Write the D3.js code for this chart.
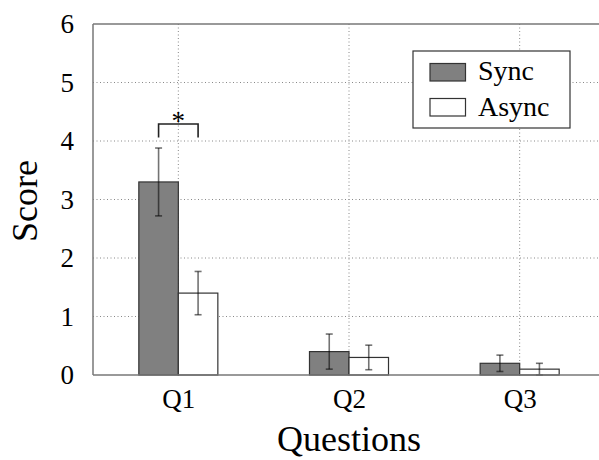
<!DOCTYPE html>
<html>
<head>
<meta charset="utf-8">
<script src="https://cdn.jsdelivr.net/npm/d3@7"></script>
<style>
  html, body { margin: 0; padding: 0; background: #fff; }
  svg { display: block; }
  text { font-family: "Liberation Serif", "Times New Roman", serif; fill: #000; }
</style>
</head>
<body>
<svg id="chart" width="599" height="460"></svg>
<script>
const categories = ["Q1", "Q2", "Q3"];
const seriesNames = ["Sync", "Async"];
const syncMeans = [3.3, 0.4, 0.2];
const syncErr = [0.58, 0.3, 0.14];
const asyncMeans = [1.4, 0.3, 0.1];
const asyncErr = [0.37, 0.21, 0.1];
const yTicks = [0, 1, 2, 3, 4, 5, 6];
const significance = [{ cat: 0, label: "*", level: 4.29, drop: 0.23 }];

(function () {
const W = 599, H = 460;
const mLeft = 93, mTop = 24, mBottom = 375, mRight = 605;

const svg = d3.select("#chart");

const x = d3.scaleLinear().domain([0.5, categories.length + 0.5]).range([mLeft, mRight]);
const y = d3.scaleLinear().domain([0, 6]).range([mBottom, mTop]);
const barW = x(1.2315) - x(1);

const fills = ["#808080", "#ffffff"];
const means = [syncMeans, asyncMeans];
const errs = [syncErr, asyncErr];

// grid
const grid = svg.append("g");
grid.selectAll("line.h").data(yTicks.filter(d => d > 0 && d < 6)).join("line")
  .attr("x1", mLeft).attr("x2", W).attr("y1", d => y(d)).attr("y2", d => y(d))
  .attr("stroke", "#888").attr("stroke-width", 1).attr("stroke-dasharray", "1,2.5");
grid.selectAll("line.v").data(categories).join("line")
  .attr("x1", (d, i) => x(i + 1)).attr("x2", (d, i) => x(i + 1))
  .attr("y1", mTop).attr("y2", mBottom)
  .attr("stroke", "#888").attr("stroke-width", 1).attr("stroke-dasharray", "1,2.5");

// bars
const bars = svg.append("g");
seriesNames.forEach((s, si) => {
  bars.selectAll("rect.s" + si).data(means[si]).join("rect")
    .attr("class", "s" + si)
    .attr("x", (d, i) => x(i + 1) + (si - 1) * barW)
    .attr("y", d => y(d))
    .attr("width", barW)
    .attr("height", d => y(0) - y(d))
    .attr("fill", fills[si])
    .attr("stroke", "#333").attr("stroke-width", 1.2);
});

// error bars
const eb = svg.append("g").attr("stroke", "rgba(0,0,0,0.55)").attr("stroke-width", 1.6);
seriesNames.forEach((s, si) => {
  means[si].forEach((m, i) => {
    const cx = x(i + 1) + (si - 0.5) * barW;
    const lo = Math.max(0, m - errs[si][i]), hi = m + errs[si][i];
    eb.append("line").attr("x1", cx).attr("x2", cx).attr("y1", y(lo)).attr("y2", y(hi));
    eb.append("line").attr("x1", cx - 3.5).attr("x2", cx + 3.5).attr("y1", y(lo)).attr("y2", y(lo));
    eb.append("line").attr("x1", cx - 3.5).attr("x2", cx + 3.5).attr("y1", y(hi)).attr("y2", y(hi));
  });
});

// axes frame
const frame = svg.append("g").attr("stroke", "#777").attr("stroke-width", 1.5).attr("fill", "none");
frame.append("line").attr("x1", mLeft).attr("x2", W).attr("y1", mTop).attr("y2", mTop);
frame.append("line").attr("x1", mLeft).attr("x2", W).attr("y1", mBottom).attr("y2", mBottom);
frame.append("line").attr("x1", mLeft).attr("x2", mLeft).attr("y1", mTop).attr("y2", mBottom);

// y axis labels
const yAxis = svg.append("g").attr("transform", `translate(${mLeft},0)`)
  .call(d3.axisLeft(y).tickValues(yTicks).tickSize(0).tickPadding(19).tickFormat(d3.format("d")));
yAxis.select(".domain").remove();
yAxis.selectAll("text").attr("font-size", 27).style("font-family", "'Liberation Serif', 'Times New Roman', serif").attr("fill", "#000");

// x axis labels
const xAxis = svg.append("g").attr("transform", `translate(0,${mBottom})`)
  .call(d3.axisBottom(x).tickValues(categories.map((c, i) => i + 1)).tickSize(0).tickPadding(14).tickFormat((d) => categories[d - 1]));
xAxis.select(".domain").remove();
xAxis.selectAll("text").attr("font-size", 27).style("font-family", "'Liberation Serif', 'Times New Roman', serif").attr("fill", "#000");

// axis titles
svg.append("text").attr("x", x(2)).attr("y", 451).attr("text-anchor", "middle")
  .attr("font-size", 36).text("Questions");
svg.append("text").attr("transform", `translate(37,${(160 + 242) / 2}) rotate(-90)`)
  .attr("text-anchor", "middle").attr("font-size", 36).text("Score");

// significance bracket
significance.forEach(sg => {
  const x1 = x(sg.cat + 1) - barW / 2, x2 = x(sg.cat + 1) + barW / 2;
  svg.append("path")
    .attr("d", `M${x1},${y(sg.level - sg.drop)}V${y(sg.level)}H${x2}V${y(sg.level - sg.drop)}`)
    .attr("fill", "none").attr("stroke", "#222").attr("stroke-width", 1.6);
  svg.append("text").attr("x", (x1 + x2) / 2).attr("y", y(sg.level) + 6)
    .attr("text-anchor", "middle").attr("font-size", 27).text(sg.label);
});

// legend
const lg = svg.append("g").attr("transform", "translate(413,51)");
lg.append("rect").attr("width", 157).attr("height", 77).attr("fill", "#fff")
  .attr("stroke", "#333").attr("stroke-width", 1.2);
seriesNames.forEach((s, si) => {
  lg.append("rect").attr("x", 17).attr("y", 12.5 + si * 35).attr("width", 35.5).attr("height", 17.5)
    .attr("fill", fills[si]).attr("stroke", "#333").attr("stroke-width", 1.2);
  lg.append("text").attr("x", 65).attr("y", 29 + si * 36).attr("font-size", 28).text(s);
});
})();
</script>
</body>
</html>
